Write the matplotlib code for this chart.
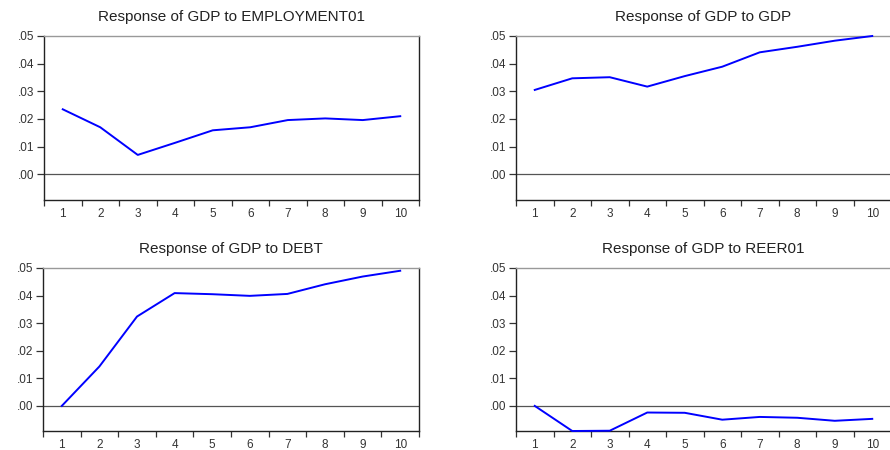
import matplotlib
matplotlib.use("Agg")
import matplotlib.pyplot as plt
from matplotlib.ticker import FixedLocator, FixedFormatter

plt.rcParams['font.family'] = ['Liberation Sans', 'DejaVu Sans']

periods = [1, 2, 3, 4, 5, 6, 7, 8, 9, 10]
titles = ["Response of GDP to EMPLOYMENT01", "Response of GDP to GDP",
          "Response of GDP to DEBT", "Response of GDP to REER01"]
employment01 = [0.0235, 0.0170, 0.0070, 0.0114, 0.0159, 0.0170, 0.0196, 0.0202, 0.0196, 0.0210]
gdp = [0.0305, 0.0347, 0.0351, 0.0317, 0.0355, 0.0389, 0.0441, 0.0461, 0.0483, 0.0500]
debt = [0.0000, 0.0143, 0.0324, 0.0409, 0.0405, 0.0399, 0.0406, 0.0441, 0.0469, 0.0490]
reer01 = [0.0000, -0.0091, -0.0090, -0.0024, -0.0025, -0.0050, -0.0040, -0.0043, -0.0054, -0.0047]
series = [employment01, gdp, debt, reer01]
ytick_vals = [0.0, 0.01, 0.02, 0.03, 0.04, 0.05]
ytick_labels = [".00", ".01", ".02", ".03", ".04", ".05"]

W, H = 890, 450
fig = plt.figure(figsize=(W / 100, H / 100), dpi=100)
rects = [(44, 36, 419, 200), (516, 36, 891, 200),
         (43, 268, 419, 431), (516, 268, 891, 431)]
ylims = [(-0.0093, 0.05), (-0.0093, 0.05), (-0.0091, 0.05), (-0.0091, 0.05)]

for (l, t, r, b), title, vals, yl in zip(rects, titles, series, ylims):
    ax = fig.add_axes([l / W, (H - b) / H, (r - l) / W, (b - t) / H])
    ax.axhline(0, color='#555555', lw=0.9, zorder=1)
    ax.plot(periods, vals, color='#0000ff', lw=1.4, zorder=3, clip_on=False)
    ax.set_xlim(0.5, 10.5)
    ax.set_ylim(*yl)
    ax.yaxis.set_major_locator(FixedLocator(ytick_vals))
    ax.yaxis.set_major_formatter(FixedFormatter(ytick_labels))
    ax.xaxis.set_major_locator(FixedLocator([p + 0.5 for p in [0] + periods]))
    ax.xaxis.set_major_formatter(FixedFormatter([""] * 11))
    ax.xaxis.set_minor_locator(FixedLocator(periods))
    ax.xaxis.set_minor_formatter(FixedFormatter([str(p) for p in periods]))
    ax.tick_params(axis='y', direction='out', length=5, width=0.9, color='#333333',
                   labelsize=8.5, labelcolor='#333333', pad=2)
    ax.tick_params(axis='x', which='major', direction='out', length=4, width=0.9,
                   color='#333333')
    ax.tick_params(axis='x', which='minor', length=0, labelsize=8.5,
                   labelcolor='#333333', pad=6)
    for s in ['left', 'bottom', 'right']:
        ax.spines[s].set_color('#222222')
        ax.spines[s].set_linewidth(1.0)
    ax.spines['top'].set_color('#999999')
    ax.spines['top'].set_linewidth(1.0)
    ax.set_title(title, fontsize=11, color='#222222', pad=10.5)

fig.savefig("out.png", dpi=100)
